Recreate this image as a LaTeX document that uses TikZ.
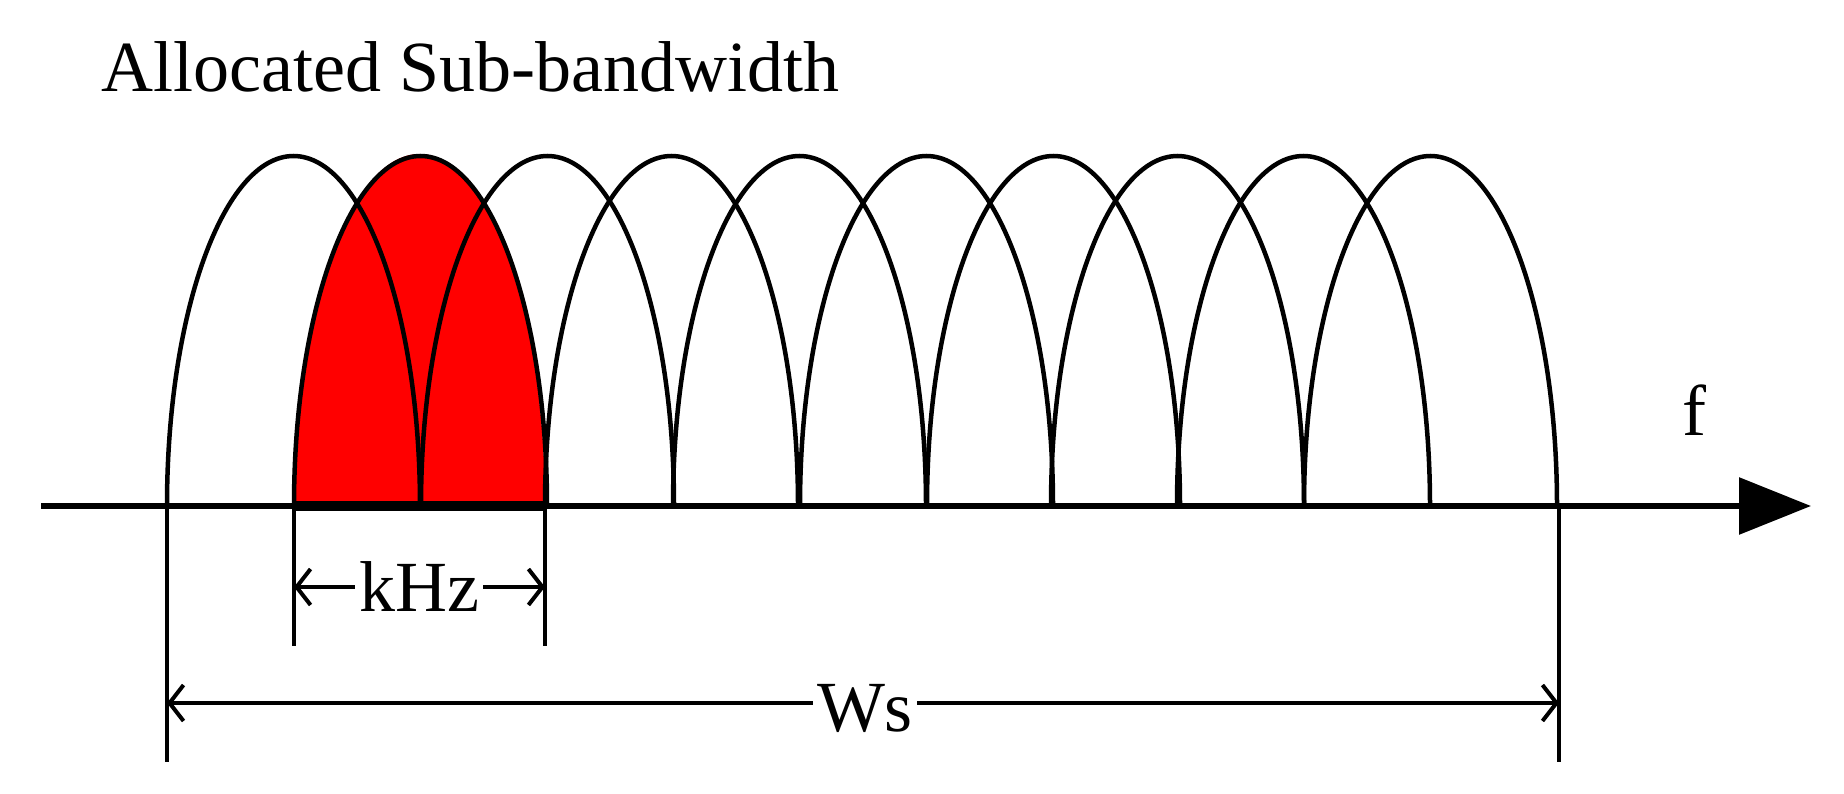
\documentclass[tikz,border=0pt]{standalone}
\usepackage{fontspec}
\setmainfont{Liberation Serif}
\usetikzlibrary{arrows.meta}
\begin{document}
\begin{tikzpicture}[x=1pt,y=1pt,
  hump/.style={line width=4.5pt},
  dim/.style={line width=4.5pt,{Straight Barb[length=14pt,width=36pt,line width=4pt]}-{Straight Barb[length=14pt,width=36pt,line width=4pt]}},
  lbl/.style={font=\fontsize{72}{72}\selectfont,inner sep=0pt}]
\useasboundingbox (0,0) rectangle (1844,-794);
% red hump
\fill[red] (294,-506) arc[start angle=180,end angle=0,x radius=125.5,y radius=352] -- cycle;
\foreach \x in {167,294,421,545,673,800,927,1051,1177,1304}
  \draw[hump] (\x,-506) arc[start angle=180,end angle=0,x radius=126.5,y radius=350];
% axis
\coordinate (a0) at (41,-506);
\coordinate (a1) at (1811,-506);
\draw[line width=6pt,-{Triangle[length=72pt,width=56pt]}] (a0) -- (a1);
\draw[line width=10pt] (294,-506) -- (545,-506);
% verticals
\coordinate (v1t) at (167,-506); \coordinate (v1b) at (167,-762);
\coordinate (v2t) at (294,-506); \coordinate (v2b) at (294,-646);
\coordinate (v3t) at (545,-506); \coordinate (v3b) at (545,-646);
\coordinate (v4t) at (1559,-506); \coordinate (v4b) at (1559,-762);
\draw[line width=4.5pt] (v1t)--(v1b) (v2t)--(v2b) (v3t)--(v3b) (v4t)--(v4b);
% dimensions
\coordinate (k0) at (294,-587); \coordinate (k1) at (545,-587);
\coordinate (w0) at (167,-703); \coordinate (w1) at (1559,-703);
\draw[dim] (k0) -- (k1);
\draw[dim] (w0) -- (w1);
\node[lbl,fill=white,inner xsep=4pt] (khz) at (419,-587) {kHz};
\node[lbl,fill=white,inner xsep=4pt] (ws) at (865,-708) {Ws};
\node[lbl,anchor=base west] (title) at (101,-92) {Allocated Sub-bandwidth};
\node[lbl,anchor=base] (f) at (1694,-435) {f};
\end{tikzpicture}
\end{document}
